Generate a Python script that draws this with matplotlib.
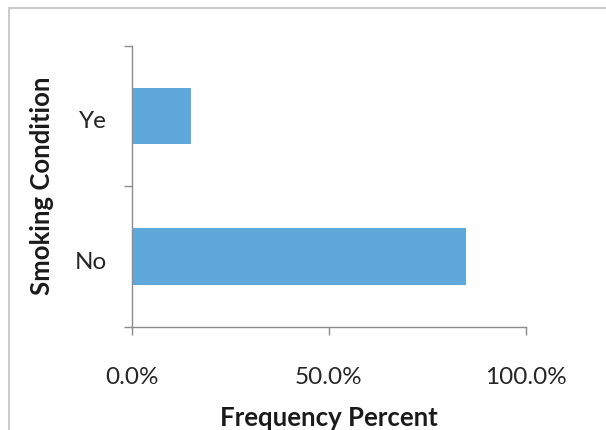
import matplotlib.pyplot as plt
from matplotlib.patches import Rectangle
from matplotlib.ticker import FuncFormatter
from matplotlib.transforms import ScaledTranslation

# Smoking condition frequencies (share of respondents)
categories = ['No', 'Ye']
freq_pct = [0.849, 0.151]
x_ticks = [0.0, 0.5, 1.0]

plt.rcParams['font.family'] = ['Lato', 'DejaVu Sans']

fig = plt.figure(figsize=(6.06, 4.30), dpi=100)
ax = fig.add_axes([0.2173, 0.2402, 0.650, 0.6535])

ax.barh(range(len(categories)), freq_pct, height=0.4, color='#5fa8da', edgecolor='none')

ax.set_xlim(0, 1)
ax.set_ylim(-0.5, len(categories) - 0.5)
ax.set_xticks(x_ticks)
ax.xaxis.set_major_formatter(FuncFormatter(lambda v, p: f'{v * 100:.1f}%'))
ax.set_yticks([-0.5, 0.5, 1.5])
ax.set_yticklabels([])
ax.set_yticks(range(len(categories)), minor=True)
ax.set_yticklabels(categories, minor=True)

for s in ['top', 'right']:
    ax.spines[s].set_visible(False)
for s in ['left', 'bottom']:
    ax.spines[s].set_color('#8c8c8c')
    ax.spines[s].set_linewidth(1.0)

ax.tick_params(axis='both', which='major', direction='out', length=6, width=1.0,
               color='#8c8c8c', labelsize=17.5, labelcolor='#262626')
ax.tick_params(axis='x', pad=23)
ax.tick_params(axis='y', which='minor', length=0, pad=18, labelsize=17.5, labelcolor='#262626')

# category labels sit a little below the bar centre, like the original
shift = ScaledTranslation(0, -4 / 100, fig.dpi_scale_trans)
for lbl in ax.get_yticklabels(minor=True):
    lbl.set_transform(lbl.get_transform() + shift)

ax.set_xlabel('Frequency Percent', fontsize=18.5, fontweight='bold', color='#1a1a1a', labelpad=13)
ax.set_ylabel('Smoking Condition', fontsize=18.5, fontweight='bold', color='#1a1a1a', labelpad=15)

# chart area frame (cropped at right and bottom in the original)
fig.patches.append(Rectangle((9 / 606, -0.1), 1.2, 1 - 8 / 430 + 0.1, transform=fig.transFigure,
                             fill=False, edgecolor='#cccccc', linewidth=1.5))

fig.savefig('out.png', dpi=100)
